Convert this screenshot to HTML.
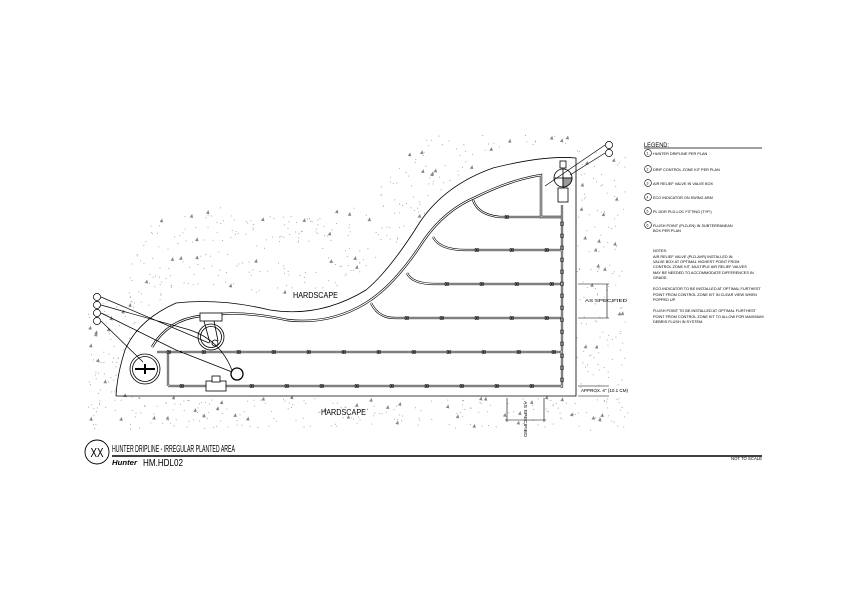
<!DOCTYPE html>
<html><head><meta charset="utf-8"><style>
body{margin:0;background:#fff}
svg{display:block;font-family:"Liberation Sans",sans-serif}
</style></head><body>
<svg id="s" width="842" height="595" viewBox="0 0 842 595" xmlns="http://www.w3.org/2000/svg">
<rect width="842" height="595" fill="#fff"/>
<g id="dots" fill="#999"></g>
<g fill="none" stroke="#000" stroke-width="0.8">
<path d="M116,396 L576,396 L576,158 Q545,155 493,168 Q445,185 420,222 Q390,270 366,290 Q320,318 270,310 Q220,298 176,303 Q138,320 125,350 Q117,375 116,396"/>
<g stroke-width="2.4"><path d="M152,347 Q168,320 200,316 L221,314 Q250,312 287,320 Q330,325 366,303 Q395,285 424,240 Q445,210 476,197 Q510,180 541,175 L541,217 L562,217" /></g>
<g stroke="#fff" stroke-width="1.1"><path d="M152,347 Q168,320 200,316 L221,314 Q250,312 287,320 Q330,325 366,303 Q395,285 424,240 Q445,210 476,197 Q510,180 541,175 L541,217 L562,217" /></g>
<g stroke-width="2.2">
<path d="M562,205 L562,388"/>
<path d="M157,352 L562,352"/>
<path d="M168,386 L562,386"/>
<path d="M168,352 L168,386"/>
<path d="M473,200 Q478,215 500,217 L541,217"/>
<path d="M433,237 Q440,250 465,250 L562,250"/>
<path d="M407,273 Q412,284 435,284 L562,284"/>
<path d="M371,303 Q378,318 395,318 L562,318"/>
</g>
<g stroke="#fff" stroke-width="1">
<path d="M562,205 L562,388"/>
<path d="M157,352 L562,352"/>
<path d="M168,386 L562,386"/>
<path d="M168,352 L168,386"/>
<path d="M473,200 Q478,215 500,217 L541,217"/>
<path d="M433,237 Q440,250 465,250 L562,250"/>
<path d="M407,273 Q412,284 435,284 L562,284"/>
<path d="M371,303 Q378,318 395,318 L562,318"/>
</g>
<g stroke-width="0.5" id="em"></g>
<circle cx="145" cy="369" r="15"/><circle cx="145" cy="369" r="12.5"/>
<path d="M135,369 L155,369 M145,364 L145,374" stroke-width="2"/>
<circle cx="211" cy="337" r="13"/><circle cx="211" cy="337" r="10.5"/>
<rect x="200" y="313" width="22" height="8" fill="#fff"/>
<path d="M204,321 L210,343 M214,321 L218,341"/><circle cx="215" cy="343" r="3"/>
<rect x="206" y="381" width="20" height="10" fill="#fff"/><rect x="212" y="376" width="8" height="6" fill="#fff"/>
<circle cx="237" cy="374" r="6" fill="#fff" stroke-width="1.3"/>
<circle cx="563" cy="178" r="9" fill="#fff"/>
<path d="M554,178 L572,178 M563,169 L563,187"/>
<path d="M563,178 L572,178 A9,9 0 0 1 563,187 Z" fill="#999"/>
<rect x="558" y="188" width="10" height="14" fill="#fff"/>
<rect x="560" y="161" width="6" height="7" fill="#fff"/>
<g stroke-width="0.7">
<circle cx="97" cy="297" r="3.6"/><circle cx="97" cy="305" r="3.6"/><circle cx="97" cy="313" r="3.6"/><circle cx="97" cy="321" r="3.6"/>
<path d="M101,297 L209,343 M101,305 L190,330 Q220,340 232,370 M101,313 L176,350 L232,372 M101,321 L143,362"/>
<circle cx="609" cy="145" r="3.6"/><circle cx="609" cy="153" r="3.6"/>
<path d="M605,145 L545,186 M605,153 L570,175"/>
</g>
<g stroke-width="0.6">
<path d="M578,284 L609,284 M578,318 L609,318 M607,284 L607,318"/>
<path d="M578,386 L609,386 M578,396 L609,396"/>
<path d="M507,398 L507,422 M544,398 L544,422 M505,420 L546,420"/>
</g>
<circle cx="97" cy="452" r="12" stroke-width="0.9"/>
<path d="M112,456 L762,456" stroke-width="1.4"/>
<path d="M644,148 L762,148" stroke-width="0.8"/>
<g stroke-width="0.6"><circle cx="648" cy="153" r="3.4"/><circle cx="648" cy="169" r="3.4"/><circle cx="648" cy="183" r="3.4"/><circle cx="648" cy="197" r="3.4"/><circle cx="648" cy="211" r="3.4"/><circle cx="648" cy="225" r="3.4"/></g>
</g>
<g fill="#000">
<text x="293" y="298" font-size="8.5" textLength="45" lengthAdjust="spacingAndGlyphs">HARDSCAPE</text>
<text x="321" y="415" font-size="8.5" textLength="45" lengthAdjust="spacingAndGlyphs">HARDSCAPE</text>
<text x="585" y="302" font-size="4.8" textLength="42" lengthAdjust="spacingAndGlyphs">AS SPECIFIED</text>
<text x="581" y="392" font-size="4.8" textLength="47" lengthAdjust="spacingAndGlyphs">APPROX. 4" (10.1 CM)</text>
<text transform="translate(524,401) rotate(90)" font-size="4.8" textLength="36" lengthAdjust="spacingAndGlyphs">AS SPECIFIED</text>
<text x="97" y="457" font-size="13" text-anchor="middle" textLength="13" lengthAdjust="spacingAndGlyphs">XX</text>
<text x="112" y="452" font-size="10.5" textLength="123" lengthAdjust="spacingAndGlyphs">HUNTER DRIPLINE - IRREGULAR PLANTED AREA</text>
<text x="112" y="465" font-size="7" font-weight="bold" font-style="italic" textLength="25" lengthAdjust="spacingAndGlyphs">Hunter</text>
<text x="143" y="466" font-size="10" textLength="40" lengthAdjust="spacingAndGlyphs">HM.HDL02</text>
<text x="731" y="460" font-size="4.5" textLength="31" lengthAdjust="spacingAndGlyphs">NOT TO SCALE</text>
<text x="644" y="147" font-size="6" textLength="25" lengthAdjust="spacingAndGlyphs">LEGEND:</text>
<g font-size="3.8">
<text x="646.5" y="154.5" font-size="3.5">1</text><text x="646.5" y="170.5" font-size="3.5">2</text><text x="646.5" y="184.5" font-size="3.5">3</text><text x="646.5" y="198.5" font-size="3.5">4</text><text x="646.5" y="212.5" font-size="3.5">5</text><text x="646.5" y="226.5" font-size="3.5">6</text>
<text x="653" y="155">HUNTER DRIPLINE PER PLAN</text>
<text x="653" y="171">DRIP CONTROL ZONE KIT PER PLAN</text>
<text x="653" y="185">AIR RELIEF VALVE IN VALVE BOX</text>
<text x="653" y="199">ECO INDICATOR ON SWING ARM</text>
<text x="653" y="213">PL DDR PLD-LOC FITTING (TYP.)</text>
<text x="653" y="227">FLUSH POINT (PLD-EN) IN SUBTERRANEAN</text>
<text x="653" y="232">BOX PER PLAN</text>
<text x="653" y="252">NOTES:</text>
<text x="653" y="258">AIR RELIEF VALVE (PLD-AVR) INSTALLED IN</text>
<text x="653" y="263">VALVE BOX AT OPTIMAL HIGHEST POINT FROM</text>
<text x="653" y="268">CONTROL ZONE KIT. MULTIPLE AIR RELIEF VALVES</text>
<text x="653" y="274">MAY BE NEEDED TO ACCOMMODATE DIFFERENCES IN</text>
<text x="653" y="279">GRADE.</text>
<text x="653" y="290">ECO INDICATOR TO BE INSTALLED AT OPTIMAL FURTHEST</text>
<text x="653" y="296">POINT FROM CONTROL ZONE KIT IN CLEAR VIEW WHEN</text>
<text x="653" y="301">POPPED UP.</text>
<text x="653" y="312">FLUSH POINT TO BE INSTALLED AT OPTIMAL FURTHEST</text>
<text x="653" y="318">POINT FROM CONTROL ZONE KIT TO ALLOW FOR MAXIMUM</text>
<text x="653" y="323">DEBRIS FLUSH IN SYSTEM.</text>
</g>
</g>
</svg>
<script>
(function(){
var ns="http://www.w3.org/2000/svg",d=document.getElementById("dots"),e=document.getElementById("em");
var seed=7;function r(){seed=(seed*16807)%2147483647;return seed/2147483647;}
function inBed(x,y){ if(y>396||x>576||x<116) return false;
 var t=[[116,396],[139,327],[176,303],[218,300],[269,308],[321,310],[373,283],[407,250],[442,207],[493,168],[562,158],[576,158]];
 for(var i=0;i<t.length-1;i++){if(x>=t[i][0]&&x<=t[i+1][0]){var yy=t[i][1]+(t[i+1][1]-t[i][1])*(x-t[i][0])/(t[i+1][0]-t[i][0]);return y>yy-14;}}return false;}
for(var k=0;k<2200;k++){var x=88+r()*540,y=135+r()*295;
 if(inBed(x,y))continue;
 if(x>580&&y<140)continue;
 var near=(y>398&&y<428)||(x>576&&x<625&&y>150)||(!inBed(x,y+45)&&inBed(x,y+80))||(x<140&&y>300)||inBed(x+35,y)||inBed(x,y+35);
 if(!near)continue;
 if(r()<0.12){var p=document.createElementNS(ns,"path");p.setAttribute("d","M"+x+","+y+"l2.5,-3.5l1,4z");p.setAttribute("fill","#888");d.appendChild(p);}
 else{var c=document.createElementNS(ns,"rect");
 c.setAttribute("x",x);c.setAttribute("y",y);c.setAttribute("width",0.9);c.setAttribute("height",0.9);d.appendChild(c);}}
var L=[[217,541],[250,562],[284,562],[318,562],[352,562],[386,562]];
var st=[495,465,435,395,157,170];
for(var i=0;i<L.length;i++){for(var x=st[i]+10;x<L[i][1]-8;x+=35){var q=document.createElementNS(ns,"path");q.setAttribute("d","M"+x+","+(L[i][0]-1.5)+"h3.5v3h-3.5zl3.5,3m0,-3l-3.5,3");e.appendChild(q);}}
for(var y=222;y<386;y+=12){var q=document.createElementNS(ns,"path");q.setAttribute("d","M"+(560.5)+","+y+"h3v3.5h-3z");e.appendChild(q);}
})();
</script>
</body></html>
